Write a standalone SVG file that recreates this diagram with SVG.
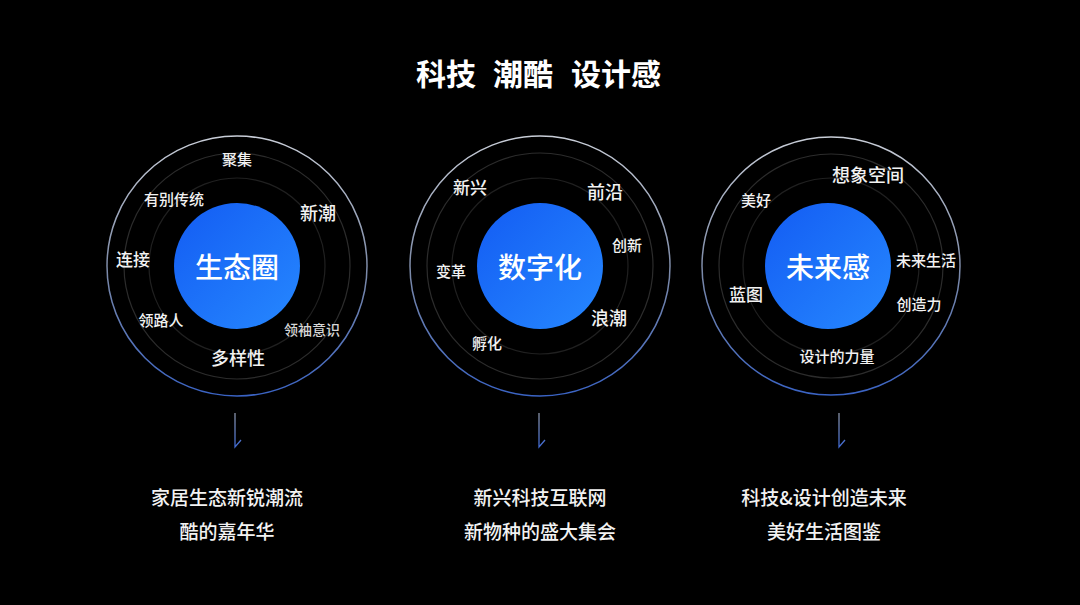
<svg xmlns="http://www.w3.org/2000/svg" width="1080" height="605" viewBox="0 0 1080 605">
<defs>
<linearGradient id="ring" x1="0" y1="0" x2="0" y2="1">
<stop offset="0" stop-color="#c9ced8"/>
<stop offset="0.5" stop-color="#7f8ca8"/>
<stop offset="1" stop-color="#3a63c4"/>
</linearGradient>
<linearGradient id="core" x1="0" y1="0" x2="1" y2="1">
<stop offset="0" stop-color="#135cf3"/>
<stop offset="1" stop-color="#2688ff"/>
</linearGradient>
<linearGradient id="arr" x1="0" y1="0" x2="0" y2="1">
<stop offset="0" stop-color="#8a93a6"/>
<stop offset="1" stop-color="#3f68d0"/>
</linearGradient>
</defs>
<style>
text{font-family:"Noto Sans CJK SC","Noto Sans",sans-serif;fill:#f2f2f2;text-anchor:middle;dominant-baseline:central;font-weight:500}
.r1{fill:none;stroke:url(#ring);stroke-width:1.5}
.r2{fill:none;stroke:#2c2c2c;stroke-width:1.2}
.r3{fill:none;stroke:#202020;stroke-width:1.2}
.core{fill:url(#core)}
.ct{font-size:28px;fill:#ffffff}
.s14{font-size:14px}
.s15{font-size:15px}
.s17{font-size:17px}
.s18{font-size:18px}
.cap{font-size:19px}
.title{font-size:30px;font-weight:bold;fill:#ffffff}
.arrow{fill:none;stroke:url(#arr);stroke-width:1.3}
</style>
<rect x="0" y="0" width="1080" height="605" fill="#000000"/>
<g id="title">
<text class="title" x="446" y="72">科技</text>
<text class="title" x="523" y="72">潮酷</text>
<text class="title" x="616" y="72">设计感</text>
</g>
<g id="node-ecosystem">
<circle class="r1" cx="237" cy="266" r="130"/>
<circle class="r2" cx="237" cy="266" r="113"/>
<circle class="r3" cx="237" cy="266" r="88"/>
<circle class="core" cx="237" cy="266" r="63"/>
<text class="ct" x="237" y="266">生态圈</text>
<text class="s15" x="237" y="158">聚集</text>
<text class="s15" x="174" y="198">有别传统</text>
<text class="s18" x="318" y="212">新潮</text>
<text class="s17" x="133" y="258">连接</text>
<text class="s15" x="161" y="319">领路人</text>
<text class="s14" x="312" y="329" style="fill:#d6d6d6">领袖意识</text>
<text class="s18" x="238" y="357">多样性</text>
</g>
<g id="node-digital">
<circle class="r1" cx="540" cy="266" r="130"/>
<circle class="r2" cx="540" cy="266" r="113"/>
<circle class="r3" cx="540" cy="266" r="88"/>
<circle class="core" cx="540" cy="266" r="63"/>
<text class="ct" x="540" y="266">数字化</text>
<text class="s17" x="470" y="186">新兴</text>
<text class="s18" x="605" y="191">前沿</text>
<text class="s15" x="627" y="244">创新</text>
<text class="s15" x="451" y="270">变革</text>
<text class="s18" x="609" y="317">浪潮</text>
<text class="s15" x="487" y="342">孵化</text>
</g>
<g id="node-future">
<circle class="r1" cx="831" cy="266" r="129"/>
<circle class="r2" cx="831" cy="266" r="112"/>
<circle class="r3" cx="831" cy="266" r="88"/>
<circle class="core" cx="828" cy="266" r="63"/>
<text class="ct" x="828" y="266">未来感</text>
<text class="s18" x="868" y="174">想象空间</text>
<text class="s15" x="756" y="199">美好</text>
<text class="s15" x="926" y="259">未来生活</text>
<text class="s17" x="746" y="293">蓝图</text>
<text class="s15" x="919" y="303">创造力</text>
<text class="s15" x="837" y="355">设计的力量</text>
</g>
<g id="connectors">
<path class="arrow" d="M235 413 V447 L241 440"/>
<path class="arrow" d="M539 413 V447 L545 440"/>
<path class="arrow" d="M839 413 V447 L845 440"/>
</g>
<g id="caption-1">
<text class="cap" x="227" y="496">家居生态新锐潮流</text>
<text class="cap" x="227" y="530">酷的嘉年华</text>
</g>
<g id="caption-2">
<text class="cap" x="540" y="496">新兴科技互联网</text>
<text class="cap" x="540" y="530">新物种的盛大集会</text>
</g>
<g id="caption-3">
<text class="cap" x="824" y="496">科技&amp;设计创造未来</text>
<text class="cap" x="824" y="530">美好生活图鉴</text>
</g>
</svg>
